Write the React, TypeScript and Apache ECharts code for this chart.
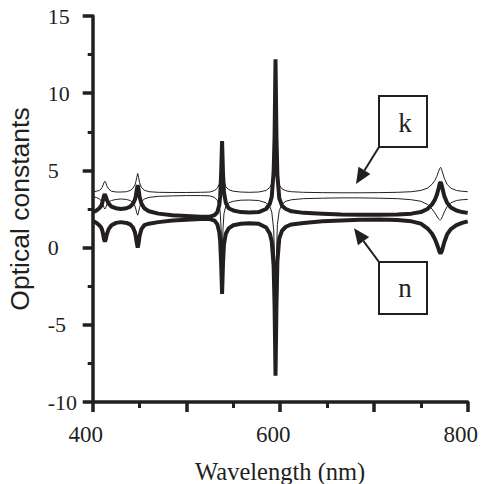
import React, { useEffect, useRef } from "react";
import * as echarts from "echarts";

// Wavelength samples (nm)
const wavelength = [
  400, 404, 407, 409, 410, 411, 412, 413, 414, 415, 417, 420, 425, 430, 436, 440, 443, 445, 446, 447,
  448, 449, 450, 452, 455, 460, 470, 485, 500, 515, 525, 530, 533, 535, 536, 537, 538, 539, 540, 542,
  545, 550, 558, 567, 577, 585, 589, 591, 593, 594, 595, 596, 597, 599, 602, 606, 612, 625, 645, 665,
  685, 705, 725, 740, 750, 757, 762, 765, 767, 769, 770, 771, 772, 773, 775, 778, 782, 788, 794, 800,
];

// thick curve, upper branch (n)
const nUpper = [
  2.3, 2.4, 2.55, 2.7, 2.85, 3.1, 3.35, 3.45, 3.3, 3.1, 2.85, 2.65, 2.55, 2.5, 2.55, 2.65, 2.85, 3.1, 3.35, 3.75,
  4.05, 3.75, 3.3, 2.85, 2.55, 2.35, 2.2, 2.1, 2.05, 2.0, 2.0, 2.1, 2.3, 2.75, 3.3, 4.8, 6.9, 4.8, 3.6, 2.9,
  2.55, 2.4, 2.3, 2.28, 2.3, 2.5, 2.85, 3.3, 4.9, 7.2, 12.2, 7.2, 4.7, 3.2, 2.7, 2.5, 2.35, 2.25, 2.2, 2.15,
  2.12, 2.12, 2.15, 2.2, 2.3, 2.5, 2.8, 3.1, 3.4, 3.85, 4.1, 4.25, 4.1, 3.85, 3.35, 2.9, 2.6, 2.4, 2.3, 2.25,
];

// thick curve, lower branch (n)
const nLower = [
  1.75, 1.6, 1.45, 1.3, 1.15, 0.9, 0.55, 0.4, 0.55, 0.85, 1.2, 1.45, 1.6, 1.65, 1.6, 1.5, 1.3, 1.0, 0.7, 0.3,
  0.0, 0.3, 0.75, 1.2, 1.45, 1.55, 1.65, 1.75, 1.8, 1.85, 1.85, 1.75, 1.5, 1.0, 0.4, -1.0, -3.0, -1.0, 0.2, 0.9,
  1.25, 1.45, 1.55, 1.58, 1.55, 1.3, 0.9, 0.4, -1.2, -3.8, -8.3, -3.8, -0.9, 0.6, 1.1, 1.35, 1.5, 1.6, 1.7, 1.75,
  1.8, 1.82, 1.78, 1.7, 1.55, 1.25, 0.9, 0.55, 0.25, -0.1, -0.3, -0.35, -0.3, -0.1, 0.35, 0.85, 1.2, 1.45, 1.6, 1.7,
];

// thin curve, upper branch (k)
const kUpper = [
  3.6, 3.65, 3.7, 3.8, 3.9, 4.05, 4.2, 4.3, 4.2, 4.0, 3.8, 3.65, 3.6, 3.6, 3.62, 3.7, 3.85, 4.05, 4.25, 4.55,
  4.8, 4.55, 4.2, 3.9, 3.72, 3.62, 3.58, 3.57, 3.57, 3.58, 3.6, 3.7, 3.85, 4.1, 4.4, 5.0, 5.8, 5.0, 4.3, 3.95,
  3.75, 3.65, 3.6, 3.58, 3.6, 3.7, 3.9, 4.15, 4.8, 5.6, 6.5, 5.6, 4.6, 4.05, 3.8, 3.68, 3.62, 3.58, 3.56, 3.55,
  3.55, 3.56, 3.58, 3.62, 3.7, 3.85, 4.1, 4.35, 4.6, 4.95, 5.1, 5.2, 5.1, 4.9, 4.5, 4.1, 3.85, 3.7, 3.65, 3.62,
];

// thin curve, lower branch (k)
const kLower = [
  3.3, 3.25, 3.15, 3.05, 2.95, 2.8, 2.6, 2.5, 2.6, 2.8, 2.95, 3.05, 3.12, 3.15, 3.12, 3.05, 2.9, 2.7, 2.5, 2.25,
  2.1, 2.3, 2.6, 2.95, 3.15, 3.25, 3.32, 3.35, 3.37, 3.37, 3.35, 3.25, 3.05, 2.7, 2.3, 1.2, -0.5, 1.2, 2.2, 2.7,
  2.9, 3.0, 3.07, 3.08, 3.05, 2.9, 2.65, 2.3, 1.2, -0.5, -2.5, -0.5, 1.5, 2.4, 2.8, 3.0, 3.1, 3.17, 3.2, 3.22,
  3.22, 3.2, 3.17, 3.1, 3.0, 2.8, 2.5, 2.25, 2.05, 1.85, 1.8, 1.8, 1.85, 2.0, 2.3, 2.65, 2.9, 3.05, 3.1, 3.12,
];

const xTickLabels = ["400", "600", "800"];

const INK = "#231f20";
const SERIF = "'Liberation Serif', 'Times New Roman', serif";
const SANS = "'Liberation Sans', Arial, sans-serif";

function pairs(vals: number[]) {
  return wavelength.map((w, i) => [w, vals[i]]);
}

function arrow(fromX: number, fromY: number, tipX: number, tipY: number) {
  const dx = tipX - fromX;
  const dy = tipY - fromY;
  const len = Math.sqrt(dx * dx + dy * dy);
  const ux = dx / len;
  const uy = dy / len;
  const headLen = 16;
  const headHalf = 7;
  const bx = tipX - headLen * ux;
  const by = tipY - headLen * uy;
  const px = -uy;
  const py = ux;
  return [
    {
      type: "line",
      shape: { x1: fromX, y1: fromY, x2: bx, y2: by },
      style: { stroke: INK, lineWidth: 2 },
    },
    {
      type: "polygon",
      shape: {
        points: [
          [tipX, tipY],
          [bx + headHalf * px, by + headHalf * py],
          [bx - headHalf * px, by - headHalf * py],
        ],
      },
      style: { fill: INK },
    },
  ];
}

export default function App() {
  const ref = useRef<HTMLDivElement>(null);
  useEffect(() => {
    if (!ref.current) return;
    const chart = echarts.init(ref.current, undefined, { renderer: "svg" });
    const thin = { color: INK, width: 1 };
    const thick = { color: INK, width: 4 };
    const mk = (name: string, vals: number[], ls: any, z: number) => ({
      name,
      type: "line",
      data: pairs(vals),
      showSymbol: false,
      symbol: "none",
      lineStyle: ls,
      z,
      silent: true,
    });
    chart.setOption({
      animation: false,
      backgroundColor: "#ffffff",
      grid: {
        left: 92.7,
        right: 13.3,
        top: 16,
        bottom: 82,
        containLabel: false,
        outerBoundsMode: "none",
      },
      xAxis: {
        type: "value",
        min: 400,
        max: 800,
        interval: 100,
        name: "Wavelength (nm)",
        nameLocation: "middle",
        nameGap: 57,
        nameTextStyle: { fontFamily: SERIF, fontSize: 24.5, color: INK },
        axisLine: { show: true, onZero: false, lineStyle: { color: INK, width: 3.5 } },
        axisTick: { show: true, length: 10, lineStyle: { color: INK, width: 3.5 } },
        minorTick: { show: true, splitNumber: 2, length: 6, lineStyle: { color: INK, width: 3 } },
        axisLabel: {
          margin: 21,
          fontFamily: SERIF,
          fontSize: 23,
          color: INK,
          padding: [0, 14, 0, 0],
          formatter: (v: number) => (xTickLabels.indexOf(String(v)) >= 0 ? String(v) : ""),
        },
        splitLine: { show: false },
        minorSplitLine: { show: false },
      },
      yAxis: {
        type: "value",
        min: -10,
        max: 15,
        interval: 5,
        name: "Optical constants",
        nameLocation: "middle",
        nameGap: 59,
        nameTextStyle: { fontFamily: SANS, fontSize: 26.5, color: INK },
        axisLine: { show: true, onZero: false, lineStyle: { color: INK, width: 3.5 } },
        axisTick: { show: true, length: 10, lineStyle: { color: INK, width: 3.5 } },
        minorTick: { show: true, splitNumber: 2, length: 5, lineStyle: { color: INK, width: 3 } },
        axisLabel: {
          margin: 45,
          align: "left",
          fontFamily: SERIF,
          fontSize: 22,
          color: INK,
        },
        splitLine: { show: false },
        minorSplitLine: { show: false },
      },
      series: [
        mk("k upper", kUpper, thin, 2),
        mk("k lower", kLower, thin, 2),
        mk("n upper", nUpper, thick, 3),
        mk("n lower", nLower, thick, 3),
      ],
      graphic: [
        {
          type: "rect",
          shape: { x: 379, y: 96, width: 48, height: 51 },
          style: { fill: "#ffffff", stroke: INK, lineWidth: 2 },
          z: 10,
        },
        {
          type: "text",
          x: 405,
          y: 123,
          style: {
            text: "k",
            fontFamily: SERIF,
            fontSize: 27,
            fill: INK,
            align: "center",
            verticalAlign: "middle",
          },
          z: 11,
        },
        ...arrow(379, 147, 356, 184).map((e) => ({ ...e, z: 10 })),
        {
          type: "rect",
          shape: { x: 379, y: 262, width: 48, height: 52 },
          style: { fill: "#ffffff", stroke: INK, lineWidth: 2 },
          z: 10,
        },
        {
          type: "text",
          x: 405,
          y: 288,
          style: {
            text: "n",
            fontFamily: SERIF,
            fontSize: 27,
            fill: INK,
            align: "center",
            verticalAlign: "middle",
          },
          z: 11,
        },
        ...arrow(379, 262, 354, 228.3).map((e) => ({ ...e, z: 10 })),
      ],
    });
    return () => chart.dispose();
  }, []);
  return (
    <div
      ref={ref}
      style={{ position: "fixed", left: 0, top: 0, width: 481, height: 484, background: "#fff" }}
    />
  );
}
